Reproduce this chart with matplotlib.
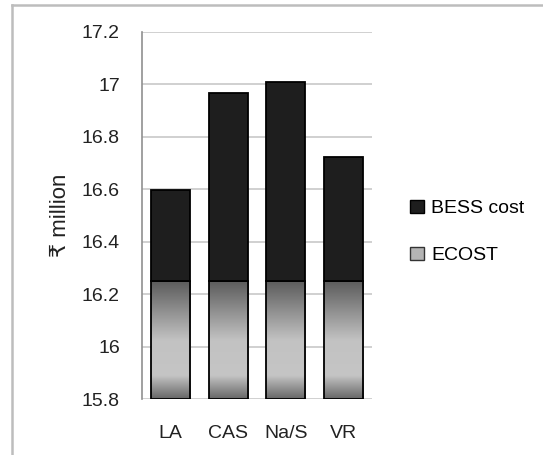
import matplotlib
matplotlib.use("Agg")
import matplotlib.pyplot as plt
import numpy as np
from matplotlib.colors import LinearSegmentedColormap
from matplotlib.patches import Patch
from matplotlib.lines import Line2D

plt.rcParams['font.family'] = ['Liberation Sans', 'DejaVu Sans']

categories = ["LA", "CAS", "Na/S", "VR"]
ecost_top = [16.25, 16.25, 16.25, 16.25]
bess_top = [16.597, 16.967, 17.008, 16.724]
y_base = 15.8
y_ticks = [15.8, 16.0, 16.2, 16.4, 16.6, 16.8, 17.0, 17.2]
y_tick_labels = ["15.8", "16", "16.2", "16.4", "16.6", "16.8", "17", "17.2"]

fig = plt.figure(figsize=(5.43, 4.55), dpi=100)
ax = fig.add_axes([142/543, 1 - 399/455, 230/543, 367/455])

x = np.arange(len(categories))
width = 0.68
ecost_h = [e - y_base for e in ecost_top]
bess_h = [b - e for b, e in zip(bess_top, ecost_top)]

grad = LinearSegmentedColormap.from_list(
    "g", [(0.0, "#5c5c5c"), (0.5, "#c2c2c2"), (0.8, "#c5c5c5"), (1.0, "#666666")])

ecost_bars = ax.bar(x, ecost_h, width, bottom=y_base, facecolor="none",
                    edgecolor="black", linewidth=1.3, zorder=3)
bess_bars = ax.bar(x, bess_h, width, bottom=ecost_top, color="#1e1e1e",
                   edgecolor="black", linewidth=1.3, zorder=3)

gvals = np.linspace(0, 1, 256).reshape(-1, 1)
for rect in ecost_bars:
    x0 = rect.get_x()
    x1 = x0 + rect.get_width()
    b = rect.get_y()
    t = b + rect.get_height()
    ax.imshow(gvals, cmap=grad, extent=(x0, x1, b, t), origin="upper",
              aspect="auto", zorder=2, interpolation="bilinear")

ax.set_xlim(-0.5, len(categories) - 0.5)
ax.set_ylim(15.8, 17.2)
ax.set_yticks(y_ticks)
ax.set_yticklabels(y_tick_labels, fontsize=14, color="#222222")
ax.set_xticks(x)
ax.set_xticklabels(categories, fontsize=14, color="#222222")
ax.tick_params(axis="y", length=0, pad=16)
ax.tick_params(axis="x", length=0, pad=19)
ax.yaxis.grid(True, color="#c8c8c8", linewidth=1.2, zorder=0)
ax.set_axisbelow(True)
for s in ["top", "right", "bottom"]:
    ax.spines[s].set_visible(False)
ax.spines["left"].set_color("#909090")
ax.spines["left"].set_linewidth(1.2)

fig.text(60/543, 1 - 215/455, "₹ million", rotation=90, fontsize=16,
         ha="center", va="center", color="#222222")

handles = [Patch(facecolor="#1e1e1e", edgecolor="black", linewidth=1.0),
           Patch(facecolor="#b4b4b4", edgecolor="#333333", linewidth=1.0)]
fig.legend(handles, ["BESS cost", "ECOST"], loc="center left",
           bbox_to_anchor=(410/543, 1 - 232/455), frameon=False, fontsize=14,
           handlelength=0.7, handleheight=0.7, handletextpad=0.4,
           labelspacing=1.5, borderpad=0, borderaxespad=0)

fig.add_artist(Line2D([12/543, 1], [1 - 5/455, 1 - 5/455], color="#bdbdbd",
                      linewidth=1.8, transform=fig.transFigure))
fig.add_artist(Line2D([12/543, 12/543], [0, 1 - 5/455], color="#bdbdbd",
                      linewidth=1.8, transform=fig.transFigure))

fig.savefig("out.png", dpi=100)
